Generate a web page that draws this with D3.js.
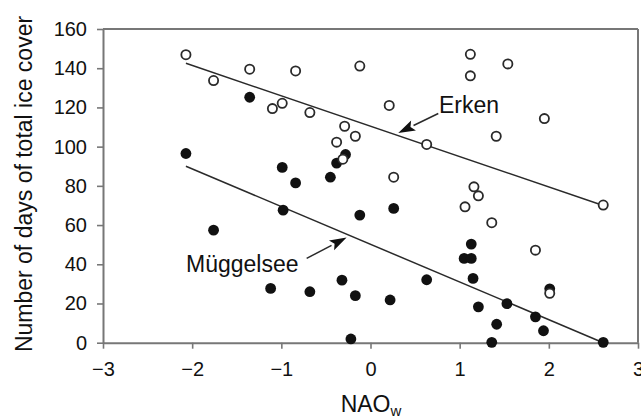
<!DOCTYPE html>
<html><head><meta charset="utf-8">
<script src="https://cdn.jsdelivr.net/npm/d3@7"></script>
<style>
body{margin:0;background:#fff}
svg{display:block}
text{font-family:"Liberation Sans",Arial,Helvetica,sans-serif}
</style>
</head><body>
<svg id="c" width="641" height="417"></svg>
<script>
// Erken (open circles)
const erkenX = [-2.07,-1.76,-1.355,-1.10,-0.99,-0.84,-0.68,-0.38,-0.31,-0.29,-0.17,-0.12,0.21,0.26,0.63,1.06,1.12,1.12,1.16,1.21,1.36,1.41,1.54,1.85,1.95,2.01,2.61];
const erkenY = [146.9,133.7,139.5,119.4,122.1,138.6,117.4,102.3,93.6,110.4,105.3,141.1,121.0,84.4,101.1,69.3,147.1,136.1,79.5,74.9,61.2,105.3,142.2,47.2,114.3,25.2,70.2];
// Müggelsee (filled circles)
const muggelX = [-2.07,-1.76,-1.355,-1.12,-0.99,-0.98,-0.84,-0.68,-0.45,-0.38,-0.28,-0.32,-0.22,-0.17,-0.12,0.22,0.26,0.63,1.05,1.13,1.13,1.15,1.21,1.36,1.415,1.53,1.85,1.94,2.01,2.61];
const muggelY = [96.5,57.4,125.2,27.7,89.4,67.6,81.5,26.0,84.4,91.6,96.0,31.9,1.9,24.0,65.1,21.8,68.5,32.1,43.0,43.0,50.3,32.8,18.3,0.2,9.4,19.9,13.2,6.1,27.5,0.2];
// regression lines (end points)
const erkenFitX = [-2.07, 2.61], erkenFitY = [142.5, 70];
const muggelFitX = [-2.07, 2.61], muggelFitY = [90, 0];
const xTicks = [-3,-2,-1,0,1,2,3];
const yTicks = [0,20,40,60,80,100,120,140,160];
const labels = ["Erken", "Müggelsee"];

const svg = d3.select("#c");
const L = 103, R = 638, T = 29, B = 342.7;
const x = d3.scaleLinear().domain([-3,3]).range([L,R]);
const y = d3.scaleLinear().domain([0,160]).range([B,T]);
const axisCol = "#777";
const fmt = d => d < 0 ? "\u2212" + Math.abs(d) : String(d);

// frame top/right
svg.append("line").attr("x1",L).attr("x2",R).attr("y1",T).attr("y2",T).attr("stroke",axisCol).attr("stroke-width",2);
svg.append("line").attr("x1",R).attr("x2",R).attr("y1",T).attr("y2",B).attr("stroke",axisCol).attr("stroke-width",2);

const gx = svg.append("g").attr("transform",`translate(0,${B})`)
  .call(d3.axisBottom(x).tickValues(xTicks).tickFormat(fmt).tickSize(6).tickSizeOuter(0).tickPadding(13));
const gy = svg.append("g").attr("transform",`translate(${L},0)`)
  .call(d3.axisLeft(y).tickValues(yTicks).tickFormat(fmt).tickSize(6).tickSizeOuter(0).tickPadding(10));
[gx,gy].forEach(g=>{
  g.select(".domain").attr("stroke",axisCol).attr("stroke-width",2);
  g.selectAll(".tick line").attr("stroke",axisCol).attr("stroke-width",1.6);
  g.selectAll(".tick text").attr("fill","#111").style("font-size","20px")
   .style("font-family",'"Liberation Sans",Arial,Helvetica,sans-serif');
});

// axis titles
svg.append("text").attr("transform","translate(32,184) rotate(-90)")
  .attr("text-anchor","middle").attr("fill","#111").style("font-size","23px")
  .text("Number of days of total ice cover");
const xt = svg.append("text").attr("x",371).attr("y",411.5).attr("text-anchor","middle")
  .attr("fill","#111").style("font-size","23px");
xt.append("tspan").text("NAO");
xt.append("tspan").attr("dy",4).style("font-size","15px").text("w");

// regression lines
const lineCol = "#2a2a2a";
[[erkenFitX,erkenFitY],[muggelFitX,muggelFitY]].forEach(([fx,fy])=>{
  svg.append("line").attr("x1",x(fx[0])).attr("y1",y(fy[0])).attr("x2",x(fx[1])).attr("y2",y(fy[1]))
    .attr("stroke",lineCol).attr("stroke-width",1.5);
});

// points
svg.append("g").selectAll("circle").data(muggelX.map((d,i)=>[d,muggelY[i]])).join("circle")
  .attr("cx",d=>x(d[0])).attr("cy",d=>y(d[1])).attr("r",5.4).attr("fill","#111");
svg.append("g").selectAll("circle").data(erkenX.map((d,i)=>[d,erkenY[i]])).join("circle")
  .attr("cx",d=>x(d[0])).attr("cy",d=>y(d[1])).attr("r",4.6).attr("fill","#fff")
  .attr("stroke","#2a2a2a").attr("stroke-width",1.8);

// annotations
function arrow(x0,y0,x1,y1){
  const px0=x(x0), py0=y(y0), px1=x(x1), py1=y(y1);
  const ang = Math.atan2(py1-py0, px1-px0);
  const hl = 17, hw = 5.5;
  const bx = px1 - hl*Math.cos(ang), by = py1 - hl*Math.sin(ang);
  svg.append("line").attr("x1",px0).attr("y1",py0).attr("x2",bx).attr("y2",by)
    .attr("stroke",lineCol).attr("stroke-width",1.5);
  const nx = -Math.sin(ang), ny = Math.cos(ang);
  const mx = px1 - (hl*0.8)*Math.cos(ang), my = py1 - (hl*0.8)*Math.sin(ang);
  svg.append("path").attr("d",`M${px1},${py1}L${bx+nx*hw},${by+ny*hw}L${mx},${my}L${bx-nx*hw},${by-ny*hw}Z`)
    .attr("fill","#111");
}
svg.append("text").attr("x",x(0.768)).attr("y",y(117.2)).attr("fill","#111").style("font-size","23px").text(labels[0]);
arrow(0.76,116.9,0.311,107.0);
svg.append("text").attr("x",x(-2.069)).attr("y",y(36.2)).attr("fill","#111").style("font-size","23px").text(labels[1]);
arrow(-0.716,43.0,-0.268,53.7);
</script>
</body></html>
